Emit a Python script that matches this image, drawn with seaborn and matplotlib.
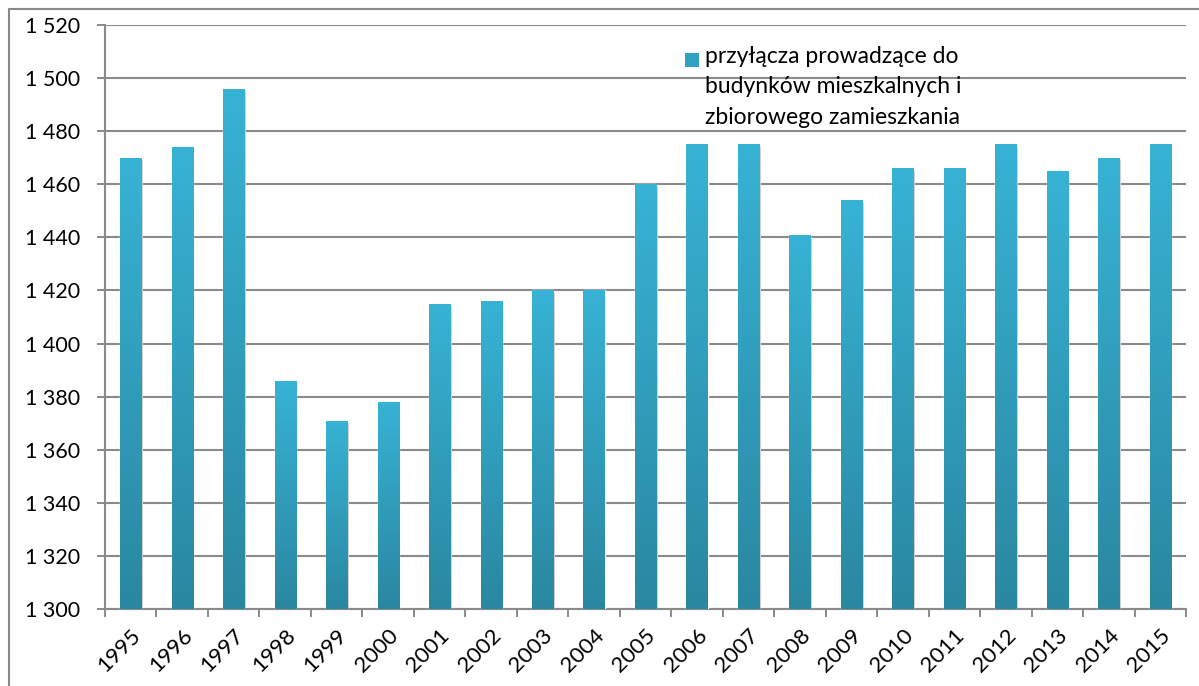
import numpy as np
import pandas as pd
import matplotlib
matplotlib.use("Agg")
import matplotlib.pyplot as plt
import matplotlib.colors as mcolors
from matplotlib.patches import Rectangle
from matplotlib.lines import Line2D
import seaborn as sns

years = [str(y) for y in range(1995, 2016)]
values = [1470, 1474, 1496, 1386, 1371, 1378, 1415, 1416, 1420, 1420,
          1460, 1475, 1475, 1441, 1454, 1466, 1466, 1475, 1465, 1470, 1475]
series_label = "przyłącza prowadzące do\nbudynków mieszkalnych i\nzbiorowego zamieszkania"
y_ticks = list(range(1300, 1521, 20))
y_tick_labels = [f"{v // 1000} {v % 1000:03d}" for v in y_ticks]

sns.set_theme(style="white")
plt.rcParams['font.family'] = ['Lato', 'DejaVu Sans']

fig = plt.figure(figsize=(11.99, 6.86), dpi=100)
W, H = 1199, 686
ax = fig.add_axes([105 / W, 1 - 609 / H, (1186 - 105) / W, (609 - 25) / H])

df = pd.DataFrame({"year": years, "value": values})
top_c = "#37B3D5"
bot_c = "#2A87A1"
sns.barplot(data=df, x="year", y="value", color=top_c, width=0.41, ax=ax,
            saturation=1, zorder=3)

ax.set_ylim(1300, 1520)
ax.set_xlim(-0.5, len(years) - 0.5)

cmap = mcolors.LinearSegmentedColormap.from_list("g", [bot_c, top_c])
grad = np.linspace(0, 1, 256).reshape(-1, 1)
for p in list(ax.patches):
    x0, y0 = p.get_x(), 1300
    x1, y1 = p.get_x() + p.get_width(), p.get_y() + p.get_height()
    ax.add_patch(Rectangle((x1, y0), 0.03, y1 - y0 - 1.0, color="#c8c8c8",
                           zorder=2.5, lw=0))
    im = ax.imshow(grad, extent=[x0, x1, y0, y1], origin="lower", cmap=cmap,
                   aspect="auto", zorder=4, interpolation="bilinear")
    im.set_clip_path(p)

ax.set_ylim(1300, 1520)
ax.set_xlim(-0.5, len(years) - 0.5)

grid_c = "#8a8a8a"
ax.set_yticks(y_ticks)
ax.set_yticklabels(y_tick_labels, fontsize=15.5, color="black")
ax.yaxis.grid(True, color=grid_c, linewidth=1.5, zorder=1)
ax.set_axisbelow(True)

ax.set_xticks(range(len(years)))
ax.set_xticklabels(years, rotation=45, ha="right", va="top",
                   rotation_mode="anchor", fontsize=16, color="black")
ax.set_xticks(np.arange(-0.5, len(years), 1.0), minor=True)
ax.tick_params(axis="x", which="major", length=0, pad=12)
ax.tick_params(axis="x", which="minor", length=6, width=1.4, color=grid_c,
               direction="out", bottom=True)
ax.tick_params(axis="y", length=6, width=1.4, color=grid_c, direction="out",
               left=True, pad=12)

for s in ["top", "right"]:
    ax.spines[s].set_visible(False)
for s in ["left", "bottom"]:
    ax.spines[s].set_color(grid_c)
    ax.spines[s].set_linewidth(1.5)

ax.set_xlabel("")
ax.set_ylabel("")

# legend (handle aligned with first line)
fig.add_artist(Rectangle((685 / W, 1 - 67 / H), 14 / W, 14 / H,
                         transform=fig.transFigure, facecolor="#31A2C2",
                         edgecolor="none"))
fig.text(705 / W, 1 - 46 / H, series_label, fontsize=16.5, va="top", ha="left",
         linespacing=1.55, color="black")

# outer chart border
fig.add_artist(Line2D([9 / W, 9 / W], [0, 1 - 9 / H], transform=fig.transFigure,
                      color="#8a8a8a", linewidth=1.5))
fig.add_artist(Line2D([9 / W, 1], [1 - 9 / H, 1 - 9 / H], transform=fig.transFigure,
                      color="#8a8a8a", linewidth=1.5))

fig.savefig("out.png", dpi=100)
